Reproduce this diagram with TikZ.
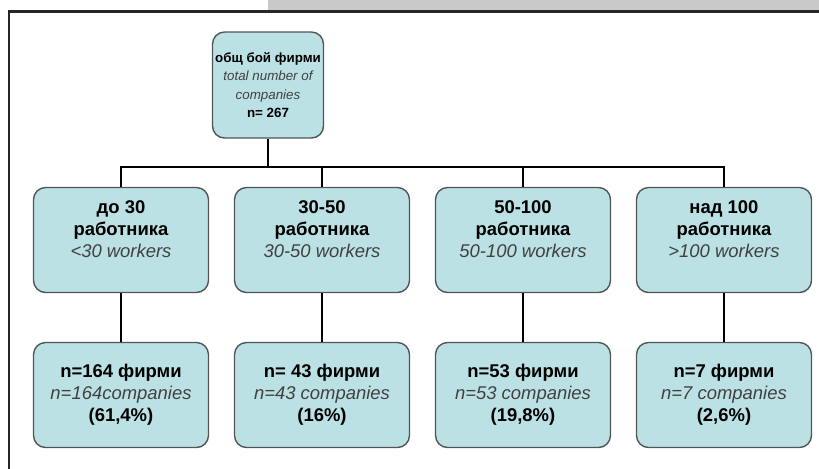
\documentclass[tikz,border=0pt]{standalone}
\usepackage{fontspec}
\setmainfont{Liberation Sans}
\usetikzlibrary{positioning}
\tikzset{box/.style = {draw=boxline, fill=boxfill, rounded corners = 0.24cm, line width = 0.8pt, align=center, inner sep = 0, minimum width = 3.5cm, minimum height = 2.1cm, font=\fontsize{10.5}{12.5}\selectfont}}
\tikzset{link/.style = {line width = 1.6pt, black}}
\definecolor{boxfill}{HTML}{BCE1E4}
\definecolor{boxline}{HTML}{505555}
\definecolor{framegray}{HTML}{C8C9CB}
\newcommand{\en}[1]{{\color{black!75}\itshape #1}}

\begin{document}
\begin{tikzpicture}[x=0.02cm, y=-0.02cm]
      \useasboundingbox (0, 0) rectangle (819, 468);
      \fill [framegray] (268, 0) rectangle (819, 10);
      \draw [line width = 1.7pt, black!85] (9, 470) -- (9, 11) -- (821, 11);
      \node [box, minimum width = 2.22cm, minimum height = 2.12cm, font=\fontsize{7.6}{10.5}\selectfont] (total) at (268, 85) {\textbf{общ бой фирми}\\\en{total number of}\\\en{companies}\\\textbf{n= 267}};
      \node [box] (g1) at (121, 240) {\textbf{до 30}\\\textbf{работника}\\\en{<30 workers}\\~};
      \node [box] (g2) at (322, 240) {\textbf{30-50}\\\textbf{работника}\\\en{30-50 workers}\\~};
      \node [box] (g3) at (523, 240) {\textbf{50-100}\\\textbf{работника}\\\en{50-100 workers}\\~};
      \node [box] (g4) at (724, 240) {\textbf{над 100}\\\textbf{работника}\\\en{>100 workers}\\~};
      \node [box] (n1) at (121, 395) {\textbf{n=164 фирми}\\\en{n=164companies}\\\textbf{(61,4\%)}};
      \node [box] (n2) at (322, 395) {\textbf{n= 43 фирми}\\\en{n=43 companies}\\\textbf{(16\%)}};
      \node [box] (n3) at (523, 395) {\textbf{n=53 фирми}\\\en{n=53 companies}\\\textbf{(19,8\%)}};
      \node [box] (n4) at (724, 395) {\textbf{n=7 фирми}\\\en{n=7 companies}\\\textbf{(2,6\%)}};
      \coordinate (bus) at (0, 167);
      \draw [link] (total.south) -- (total.south |- bus);
      \draw [link] (g1.north) -- (g1.north |- bus) -- (g4.north |- bus) -- (g4.north);
      \foreach \i in {2,3} {
        \draw [link] (g\i.north) -- (g\i.north |- bus);
      }
      \foreach \i in {1,2,3,4} {
        \draw [link] (g\i.south) -- (n\i.north);
      }
    \end{tikzpicture}
\end{document}
